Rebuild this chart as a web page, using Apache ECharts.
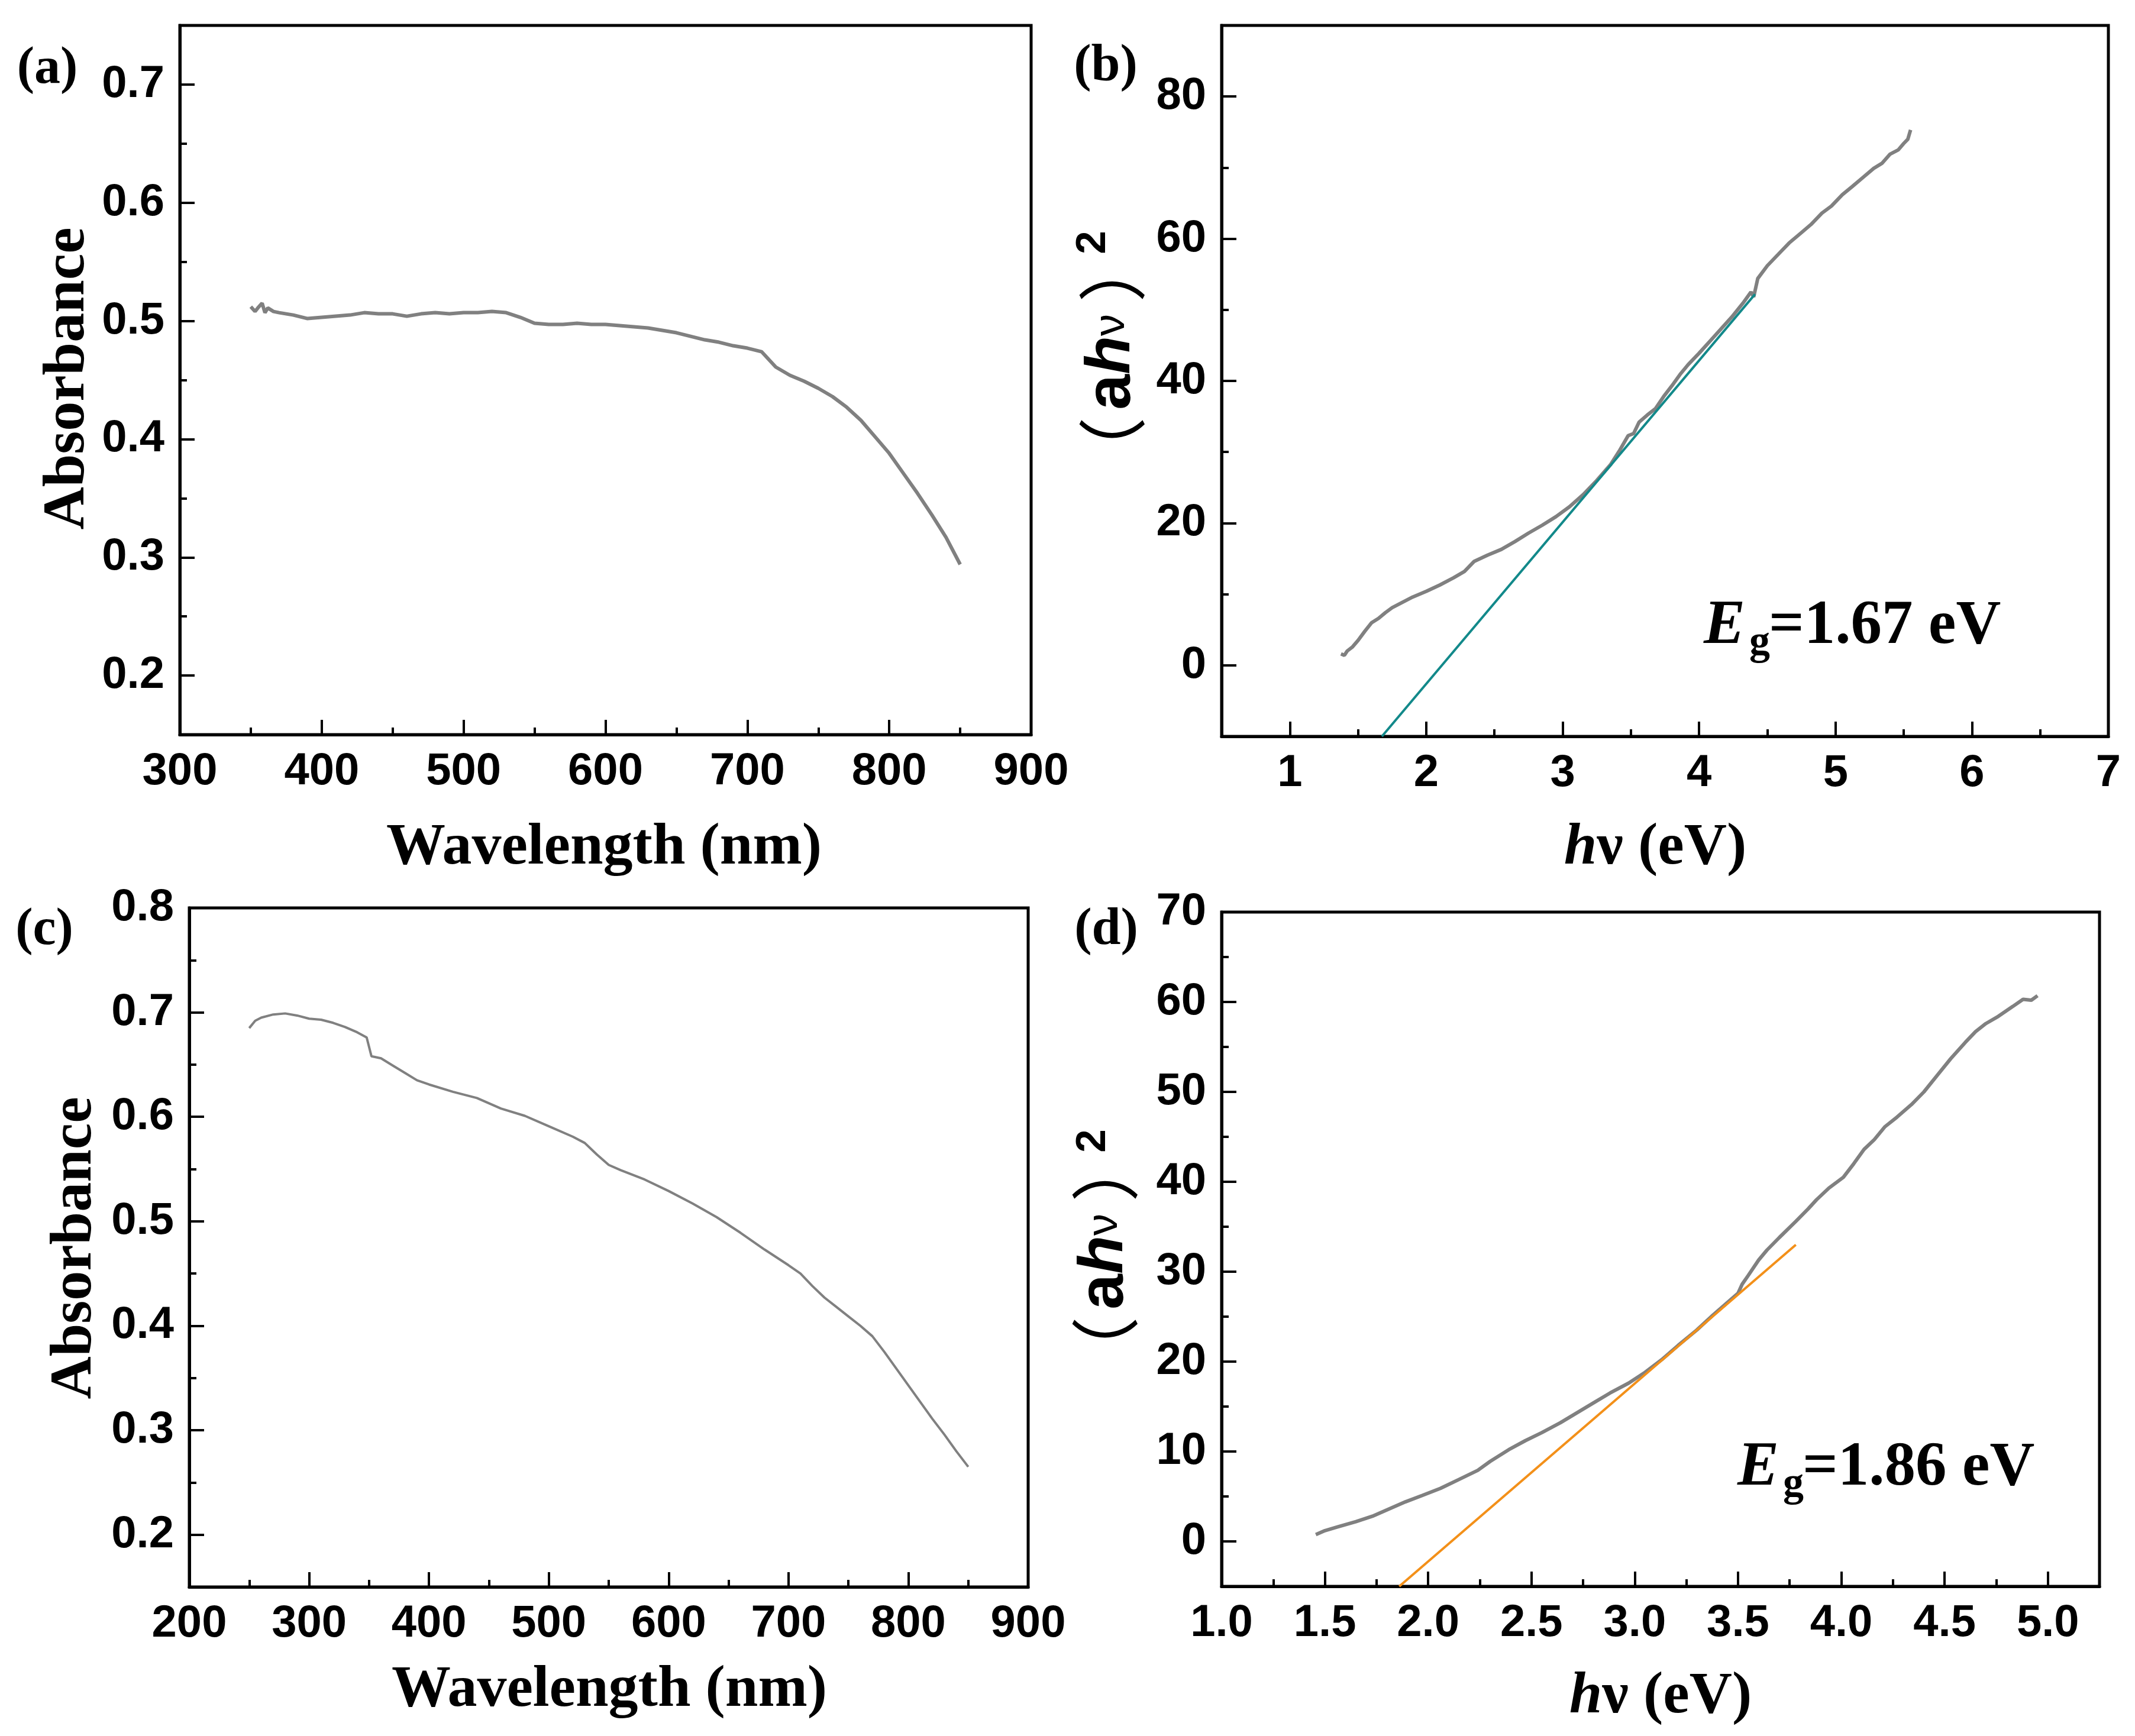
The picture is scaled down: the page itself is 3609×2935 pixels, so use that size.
<!DOCTYPE html>
<html>
<head>
<meta charset="utf-8">
<script src="https://cdn.jsdelivr.net/npm/echarts@6/dist/echarts.min.js"></script>
<style>
  html, body { margin: 0; padding: 0; background: #fff; }
  #main { width: 3609px; height: 2935px; }
</style>
</head>
<body>
<div id="main"></div>
<script>
// panel (a): absorbance vs wavelength
var aWl  = [350, 353, 355, 358, 360, 362, 366, 370, 375, 380, 390, 400, 410, 420, 430, 440, 450, 460, 470, 480, 490, 500, 510, 520, 530, 540, 550, 560, 570, 580, 590, 600, 610, 620, 630, 640, 650, 660, 670, 680, 690, 700, 710, 720, 730, 740, 750, 760, 770, 780, 790, 800, 810, 820, 830, 840, 850];
var aAbs = [0.512, 0.508, 0.511, 0.515, 0.507, 0.511, 0.508, 0.507, 0.506, 0.505, 0.502, 0.503, 0.504, 0.505, 0.507, 0.506, 0.506, 0.504, 0.506, 0.507, 0.506, 0.507, 0.507, 0.508, 0.507, 0.503, 0.498, 0.497, 0.497, 0.498, 0.497, 0.497, 0.496, 0.495, 0.494, 0.492, 0.490, 0.487, 0.484, 0.482, 0.479, 0.477, 0.474, 0.461, 0.454, 0.449, 0.443, 0.436, 0.427, 0.416, 0.402, 0.388, 0.371, 0.354, 0.336, 0.317, 0.294];

// panel (b): (ahv)^2 vs hv, with tangent line
var bEv  = [1.375, 1.40, 1.42, 1.46, 1.50, 1.55, 1.60, 1.65, 1.70, 1.75, 1.80, 1.90, 2.00, 2.10, 2.20, 2.28, 2.35, 2.45, 2.55, 2.65, 2.75, 2.85, 2.95, 3.05, 3.15, 3.25, 3.35, 3.42, 3.48, 3.52, 3.56, 3.62, 3.68, 3.74, 3.80, 3.86, 3.92, 4.00, 4.08, 4.16, 4.24, 4.32, 4.38, 4.40, 4.43, 4.50, 4.58, 4.66, 4.74, 4.82, 4.90, 4.97, 5.05, 5.12, 5.20, 5.28, 5.34, 5.40, 5.46, 5.50, 5.53, 5.55];
var bVal = [1.6, 1.4, 2.0, 2.6, 3.5, 4.8, 6.0, 6.6, 7.4, 8.1, 8.6, 9.6, 10.4, 11.3, 12.3, 13.2, 14.6, 15.5, 16.3, 17.4, 18.6, 19.7, 20.9, 22.3, 24.0, 26.0, 28.2, 30.3, 32.3, 32.6, 34.2, 35.2, 36.1, 37.8, 39.3, 40.9, 42.3, 43.9, 45.6, 47.3, 49.0, 50.9, 52.5, 51.8, 54.4, 56.2, 57.8, 59.4, 60.7, 62.0, 63.6, 64.6, 66.2, 67.3, 68.6, 69.9, 70.6, 71.9, 72.5, 73.4, 74.0, 75.3];
var bFitX = [1.675, 4.41];
var bFitY = [-10, 52.2];

// panel (c): absorbance vs wavelength
var cWl  = [250, 255, 260, 270, 280, 290, 300, 310, 320, 330, 340, 348, 352, 360, 370, 380, 390, 400, 420, 440, 460, 480, 500, 520, 530, 540, 550, 560, 580, 600, 620, 640, 660, 680, 700, 710, 720, 730, 740, 750, 760, 770, 780, 790, 800, 810, 820, 830, 840, 850];
var cAbs = [0.685, 0.692, 0.695, 0.698, 0.699, 0.697, 0.694, 0.693, 0.690, 0.686, 0.681, 0.676, 0.658, 0.656, 0.649, 0.642, 0.635, 0.631, 0.624, 0.618, 0.608, 0.601, 0.591, 0.581, 0.575, 0.564, 0.554, 0.549, 0.540, 0.529, 0.517, 0.504, 0.489, 0.473, 0.458, 0.450, 0.438, 0.427, 0.418, 0.409, 0.400, 0.390, 0.375, 0.359, 0.343, 0.327, 0.311, 0.296, 0.280, 0.265];

// panel (d): (ahv)^2 vs hv, with tangent line
var dEv  = [1.456, 1.50, 1.56, 1.65, 1.73, 1.81, 1.89, 1.97, 2.06, 2.15, 2.24, 2.30, 2.39, 2.47, 2.55, 2.64, 2.72, 2.80, 2.88, 2.97, 3.05, 3.13, 3.21, 3.30, 3.38, 3.44, 3.50, 3.52, 3.55, 3.60, 3.64, 3.70, 3.78, 3.84, 3.88, 3.94, 4.01, 4.06, 4.11, 4.16, 4.21, 4.27, 4.34, 4.40, 4.47, 4.53, 4.60, 4.65, 4.70, 4.76, 4.83, 4.88, 4.92, 4.95];
var dVal = [0.75, 1.2, 1.6, 2.2, 2.8, 3.6, 4.4, 5.1, 5.9, 6.9, 7.9, 8.9, 10.2, 11.2, 12.1, 13.2, 14.3, 15.4, 16.5, 17.6, 18.8, 20.2, 21.8, 23.5, 25.2, 26.4, 27.6, 28.6, 29.6, 31.3, 32.4, 33.8, 35.6, 37.0, 38.0, 39.3, 40.5, 42.0, 43.6, 44.7, 46.1, 47.2, 48.6, 50.0, 52.0, 53.7, 55.5, 56.7, 57.6, 58.4, 59.5, 60.3, 60.2, 60.7];
var dFitX = [1.86, 3.78];
var dFitY = [-5, 33.0];

// tick values
var aXMajor = [300, 400, 500, 600, 700, 800, 900];
var aXMinor = [350, 450, 550, 650, 750, 850];
var aYMajor = [0.2, 0.3, 0.4, 0.5, 0.6, 0.7];
var aYMinor = [0.25, 0.35, 0.45, 0.55, 0.65];
var bXMajor = [1, 2, 3, 4, 5, 6, 7];
var bXMinor = [1.5, 2.5, 3.5, 4.5, 5.5, 6.5];
var bYMajor = [0, 20, 40, 60, 80];
var bYMinor = [-10, 10, 30, 50, 70];
var cXMajor = [200, 300, 400, 500, 600, 700, 800, 900];
var cXMinor = [250, 350, 450, 550, 650, 750, 850];
var cYMajor = [0.2, 0.3, 0.4, 0.5, 0.6, 0.7, 0.8];
var cYMinor = [0.25, 0.35, 0.45, 0.55, 0.65, 0.75];
var dXMajor = [1.0, 1.5, 2.0, 2.5, 3.0, 3.5, 4.0, 4.5, 5.0];
var dXMinor = [1.25, 1.75, 2.25, 2.75, 3.25, 3.75, 4.25, 4.75];
var dYMajor = [0, 10, 20, 30, 40, 50, 60, 70];
var dYMinor = [5, 15, 25, 35, 45, 55, 65];

var SANS = 'Liberation Sans, Arial, sans-serif';
var SERIF = 'Liberation Serif, Times New Roman, serif';
var CJK = '"Noto Sans CJK SC", "Noto Sans CJK JP", sans-serif';

function pairs(xs, ys) {
    return xs.map(function (x, i) { return [x, ys[i]]; });
}

function mainAxis(dim, grid, min, max, ticks, fmt) {
    return {
        type: 'value', gridIndex: grid, min: min, max: max,
        position: dim === 'x' ? 'bottom' : 'left',
        axisLine: { show: true, onZero: false, lineStyle: { color: '#000', width: 5 } },
        axisTick: { show: true, inside: true, length: 25, customValues: ticks, lineStyle: { color: '#000', width: 4 } },
        axisLabel: {
            customValues: ticks, formatter: fmt,
            margin: dim === 'x' ? 25 : 26,
            color: '#000', fontSize: 76, fontWeight: 'bold', fontFamily: SANS
        },
        splitLine: { show: false }
    };
}

function minorAxis(dim, grid, min, max, ticks) {
    return {
        type: 'value', gridIndex: grid, min: min, max: max,
        position: dim === 'x' ? 'bottom' : 'left',
        axisLine: { show: false, onZero: false },
        axisTick: { show: true, inside: true, length: 12, customValues: ticks, lineStyle: { color: '#000', width: 4 } },
        axisLabel: { show: false },
        splitLine: { show: false }
    };
}

var f0 = function (v) { return String(Math.round(v)); };
var f1 = function (v) { return v.toFixed(1); };

function curve(idx, data, color, width) {
    return {
        type: 'line', xAxisIndex: idx, yAxisIndex: idx, data: data,
        showSymbol: false, smooth: false, clip: true,
        lineStyle: { color: color, width: width }
    };
}

var gridBox = { show: true, borderColor: '#000', borderWidth: 5, backgroundColor: 'transparent' };

function txt(x, y, text, size, opts) {
    opts = opts || {};
    return {
        type: 'text', x: x, y: y, rotation: opts.rot || 0,
        style: {
            text: text, fill: '#000', fontSize: size,
            fontFamily: opts.family || SERIF,
            fontWeight: opts.weight || 'bold',
            fontStyle: opts.style || 'normal',
            align: opts.align || 'center', verticalAlign: 'middle',
            rich: opts.rich
        }
    };
}

var yTitleRich = {
    pl: { fontFamily: CJK, fontSize: 116, fontWeight: 'normal', padding: [0, 12, 0, 0] },
    pr: { fontFamily: CJK, fontSize: 116, fontWeight: 'normal', padding: [0, 0, 0, 20] },
    a: { fontFamily: SANS, fontSize: 108, fontWeight: 'bold' },
    h: { fontFamily: SANS, fontSize: 106, fontWeight: 'bold', fontStyle: 'italic' },
    v: { fontFamily: SANS, fontSize: 74, fontWeight: 'normal' }
};
var xTitleRich = {
    h: { fontFamily: SERIF, fontSize: 100, fontWeight: 'bold', fontStyle: 'italic' },
    t: { fontFamily: SERIF, fontSize: 100, fontWeight: 'bold' }
};

function egLabel(left, baseline, text) {
    return [
        txt(left - 5, baseline - 36, 'E', 105, { style: 'italic', align: 'left' }),
        txt(left + 72, baseline - 8, 'g', 70, { align: 'left' }),
        txt(left + 105, baseline - 36, text, 105, { align: 'left' })
    ];
}

var myChart = echarts.init(document.getElementById('main'), null, { renderer: 'canvas' });

myChart.setOption({
    animation: false,
    backgroundColor: '#fff',
    grid: [
        Object.assign({ left: 304, top: 43, width: 1439, height: 1199 }, gridBox),
        Object.assign({ left: 2065, top: 43, width: 1499, height: 1202 }, gridBox),
        Object.assign({ left: 320, top: 1535, width: 1418, height: 1148 }, gridBox),
        Object.assign({ left: 2065, top: 1542, width: 1484, height: 1140 }, gridBox)
    ],
    xAxis: [
        mainAxis('x', 0, 300, 900, aXMajor, f0),
        mainAxis('x', 1, 0.5, 7, bXMajor, f0),
        mainAxis('x', 2, 200, 900, cXMajor, f0),
        mainAxis('x', 3, 1.0, 5.25, dXMajor, f1),
        minorAxis('x', 0, 300, 900, aXMinor),
        minorAxis('x', 1, 0.5, 7, bXMinor),
        minorAxis('x', 2, 200, 900, cXMinor),
        minorAxis('x', 3, 1.0, 5.25, dXMinor)
    ],
    yAxis: [
        mainAxis('y', 0, 0.15, 0.75, aYMajor, f1),
        mainAxis('y', 1, -10, 90, bYMajor, f0),
        mainAxis('y', 2, 0.15, 0.8, cYMajor, f1),
        mainAxis('y', 3, -5, 70, dYMajor, f0),
        minorAxis('y', 0, 0.15, 0.75, aYMinor),
        minorAxis('y', 1, -10, 90, bYMinor),
        minorAxis('y', 2, 0.15, 0.8, cYMinor),
        minorAxis('y', 3, -5, 70, dYMinor)
    ],
    series: [
        curve(0, pairs(aWl, aAbs), '#808080', 6),
        curve(1, pairs(bEv, bVal), '#808080', 6),
        curve(1, pairs(bFitX, bFitY), '#12898a', 4),
        curve(2, pairs(cWl, cAbs), '#808080', 4),
        curve(3, pairs(dEv, dVal), '#808080', 6),
        curve(3, pairs(dFitX, dFitY), '#f39019', 4)
    ],
    graphic: [].concat(
        [
            // panel labels
            txt(80, 117, '(a)', 88),
            txt(1869, 113, '(b)', 88),
            txt(75, 1573, '(c)', 88),
            txt(1870, 1573, '(d)', 88),
            // axis titles
            txt(1021, 1434, 'Wavelength (nm)', 100),
            txt(1030, 2858, 'Wavelength (nm)', 100),
            txt(2798, 1434, '{h|h}{t|ν (eV)}', 100, { rich: xTitleRich }),
            txt(2807, 2869, '{h|h}{t|ν (eV)}', 100, { rich: xTitleRich }),
            txt(115, 640, 'Absorbance', 100, { rot: Math.PI / 2 }),
            txt(127, 2110, 'Absorbance', 100, { rot: Math.PI / 2 }),
            txt(1880, 608, '{pl|（}{a|a}{h|h}{v|ν}{pr|）}', 108, { rot: Math.PI / 2, rich: yTitleRich }),
            txt(1848, 410, '2', 71, { rot: Math.PI / 2, family: SANS }),
            txt(1868, 2129, '{pl|（}{a|a}{h|h}{v|ν}{pr|）}', 108, { rot: Math.PI / 2, rich: yTitleRich }),
            txt(1848, 1929, '2', 71, { rot: Math.PI / 2, family: SANS })
        ],
        egLabel(2885, 1096, '=1.67 eV'),
        egLabel(2942, 2519, '=1.86 eV')
    )
});
</script>
</body>
</html>
